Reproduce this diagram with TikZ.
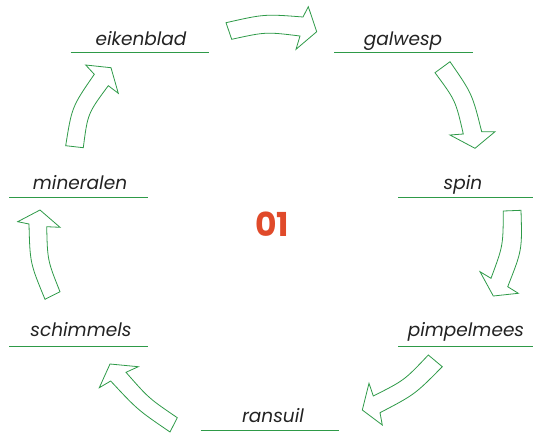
\documentclass[tikz,border=0pt]{standalone}
\usepackage{fontspec}
\setmainfont{Poppins}
\definecolor{lgreen}{HTML}{2E9A48}
\definecolor{txt}{HTML}{222222}
\definecolor{numred}{HTML}{E04A2A}
\begin{document}
\begin{tikzpicture}[x=1pt,y=-1pt,
  lab/.style={anchor=base,text=txt,font=\fontsize{18.5}{21}\selectfont\itshape,inner sep=0pt},
  uline/.style={draw=lgreen,line width=1.1pt},
  blk/.style={draw=lgreen,fill=white,line width=0.8pt,line join=miter}]
\useasboundingbox (0,0) rectangle (533,432);
% labels
\node[lab] (eik) at (141,45.5) {eikenblad};
\node[lab] (gal) at (403,45.5) {galwesp};
\node[lab] (min) at (80,189) {mineralen};
\node[lab] (spi) at (463,189) {spin};
\node[lab] (sch) at (81,336) {schimmels};
\node[lab] (pim) at (466,336) {pimpelmees};
\node[lab] (ran) at (273,422) {ransuil};
% underlines
\draw[uline] (70.5,52.5) -- (209,52.5);
\draw[uline] (334,52.5) -- (472.5,52.5);
\draw[uline] (9,197.5) -- (148,197.5);
\draw[uline] (398,197.5) -- (533,197.5);
\draw[uline] (9,346.5) -- (148,346.5);
\draw[uline] (398,346.5) -- (533,346.5);
\draw[uline] (200.5,430.5) -- (339,430.5);
% centre number
\node[anchor=center,text=numred,font=\fontsize{33}{36}\selectfont\bfseries,inner sep=0pt] (num) at (272,224) {01};
% block arrows
\draw[blk] (226,22.7) .. controls (264.5,14) .. (303,17) -- (308.3,6.7) -- (316.7,31.7) -- (296,49.3) -- (300,36) .. controls (265.9,31.8) .. (231.7,39.3) -- cycle;
\draw[blk] (450,61.7) .. controls (472.2,93.8) .. (481.7,131.7) -- (495,131.7) -- (475,148.3) -- (450,135) -- (463.3,134) .. controls (455.6,100.5) .. (435,72.7) -- cycle;
\draw[blk] (521,210.3) .. controls (522.2,249.9) .. (507.7,286.7) -- (518.3,293.3) -- (493.3,296) -- (480,271.7) -- (491,278.3) .. controls (503.1,245.7) .. (503.3,211) -- cycle;
\draw[blk] (442.3,366.7) .. controls (414.8,394.5) .. (380,412.7) -- (382.3,425) -- (362.3,410) -- (369,383.3) -- (373.3,396) .. controls (404.4,380.3) .. (428.3,355) -- cycle;
\draw[blk] (170,432) .. controls (137.5,409.8) .. (110.7,381) -- (99.3,387.7) -- (110,364) -- (138.3,366.7) -- (126,372.3) .. controls (148.8,398.3) .. (177.3,417.7) -- cycle;
\draw[blk] (45,299.3) .. controls (30,263) .. (29,224) -- (17.7,221.7) -- (40,210) -- (60,227.3) -- (46.7,226.7) .. controls (47.5,260.4) .. (60,291.7) -- cycle;
\draw[blk] (65.7,145.7) .. controls (71.9,106.8) .. (94.3,74.3) -- (85.7,65) -- (111,67.7) -- (118.3,93.3) -- (108.3,85.7) .. controls (87.7,113.5) .. (83.3,147.7) -- cycle;
\end{tikzpicture}
\end{document}
